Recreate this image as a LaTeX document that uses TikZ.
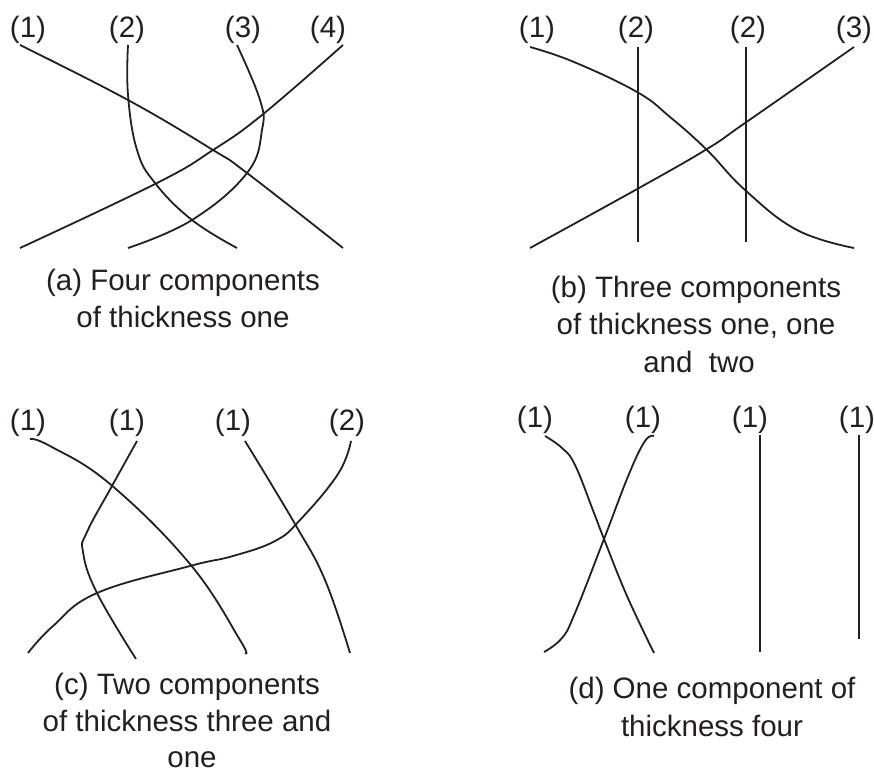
\documentclass[tikz,border=0pt]{standalone}
\usepackage{fontspec}
\setmainfont{Liberation Sans}
\definecolor{ink}{HTML}{231F20}
\begin{document}
\begin{tikzpicture}[x=1pt,y=-1pt,
  strand/.style={draw=ink,line width=1.8pt},
  lbl/.style={text=ink,anchor=base,inner sep=0pt,font=\fontsize{29.5}{37}\selectfont},
  captext/.style={text=ink,anchor=base,inner sep=0pt,font=\fontsize{29.5}{37}\selectfont}]
\useasboundingbox (0,0) rectangle (874,772);
% ---------- (a) ----------
\node[lbl] (a1) at (28,37) {(1)};
\node[lbl] (a2) at (127,37) {(2)};
\node[lbl] (a3) at (243,37) {(3)};
\node[lbl] (a4) at (328,37) {(4)};
\draw[strand] plot[smooth,tension=0.7] coordinates {(20,45) (128,100) (213,150) (247,173) (343,248)};
\draw[strand] plot[smooth,tension=0.7] coordinates {(343,45) (262,115) (213,150) (157,183) (20,248)};
\draw[strand] plot[smooth,tension=0.7] coordinates {(128,45) (128,95) (137,150) (155,183) (192,220) (237,248)};
\draw[strand] plot[smooth,tension=0.7] coordinates {(237,45) (260,100) (262,130) (247,173) (192,220) (128,248)};
\node[captext] (ca1) at (183,290) {(a) Four components};
\node[captext] (ca2) at (183,327) {of thickness one};
% ---------- (b) ----------
\node[lbl] (b1) at (537,37) {(1)};
\node[lbl] (b2) at (636,37) {(2)};
\node[lbl] (b3) at (748,37) {(2)};
\node[lbl] (b4) at (854,37) {(3)};
\coordinate (bv1t) at (638,47); \coordinate (bv1b) at (638,242);
\coordinate (bv2t) at (746,47); \coordinate (bv2b) at (746,242);
\draw[strand] (bv1t) -- (bv1b);
\draw[strand] (bv2t) -- (bv2b);
\draw[strand] plot[smooth,tension=0.7] coordinates {(530,47) (574,62) (637,92) (670,117) (707,150) (745,190) (797,230) (854,248)};
\draw[strand] plot[smooth,tension=0.7] coordinates {(854,47) (745,123) (707,149) (639,188) (530,248)};
\node[captext] (cb1) at (696,297) {(b) Three components};
\node[captext] (cb2) at (696,334) {of thickness one, one};
\node[captext] (cb3) at (699,372) {and\ \ two};
% ---------- (c) ----------
\node[lbl] (c1) at (28,430) {(1)};
\node[lbl] (c2) at (127,430) {(1)};
\node[lbl] (c3) at (233,430) {(1)};
\node[lbl] (c4) at (347,430) {(2)};
\draw[strand] plot[smooth,tension=0.7] coordinates {(30,439) (50,446) (110,484) (190,564) (240,640) (245,653)};
\draw[strand] plot[smooth,tension=0.7] coordinates {(137,441) (112,486) (87,532) (83,552) (97,593) (136,659)};
\draw[strand] plot[smooth,tension=0.7] coordinates {(245,441) (295,524) (325,580) (350,653)};
\draw[strand] plot[smooth,tension=0.7] coordinates {(351,441) (338,474) (300,520) (275,541) (233,556) (190,566) (97,593) (53,626) (28,653)};
\node[captext] (cc1) at (187,694) {(c) Two components};
\node[captext] (cc2) at (187,731) {of thickness three and};
\node[captext] (cc3) at (192,767) {one};
% ---------- (d) ----------
\node[lbl] (d1) at (535,427) {(1)};
\node[lbl] (d2) at (643,427) {(1)};
\node[lbl] (d3) at (750,427) {(1)};
\node[lbl] (d4) at (857,427) {(1)};
\draw[strand] plot[smooth,tension=0.7] coordinates {(545,436) (562,448) (575,465) (594,513) (604,539) (627,596) (654,653)};
\draw[strand] plot[smooth,tension=0.7] coordinates {(654,436) (645,441) (629,474) (604,539) (575,613) (562,638) (544,652)};
\coordinate (dv1t) at (760,435); \coordinate (dv1b) at (760,652);
\coordinate (dv2t) at (859,435); \coordinate (dv2b) at (859,639);
\draw[strand] (dv1t) -- (dv1b);
\draw[strand] (dv2t) -- (dv2b);
\node[captext] (cd1) at (712,698) {(d) One component of};
\node[captext] (cd2) at (712,736) {thickness four};
\end{tikzpicture}
\end{document}
